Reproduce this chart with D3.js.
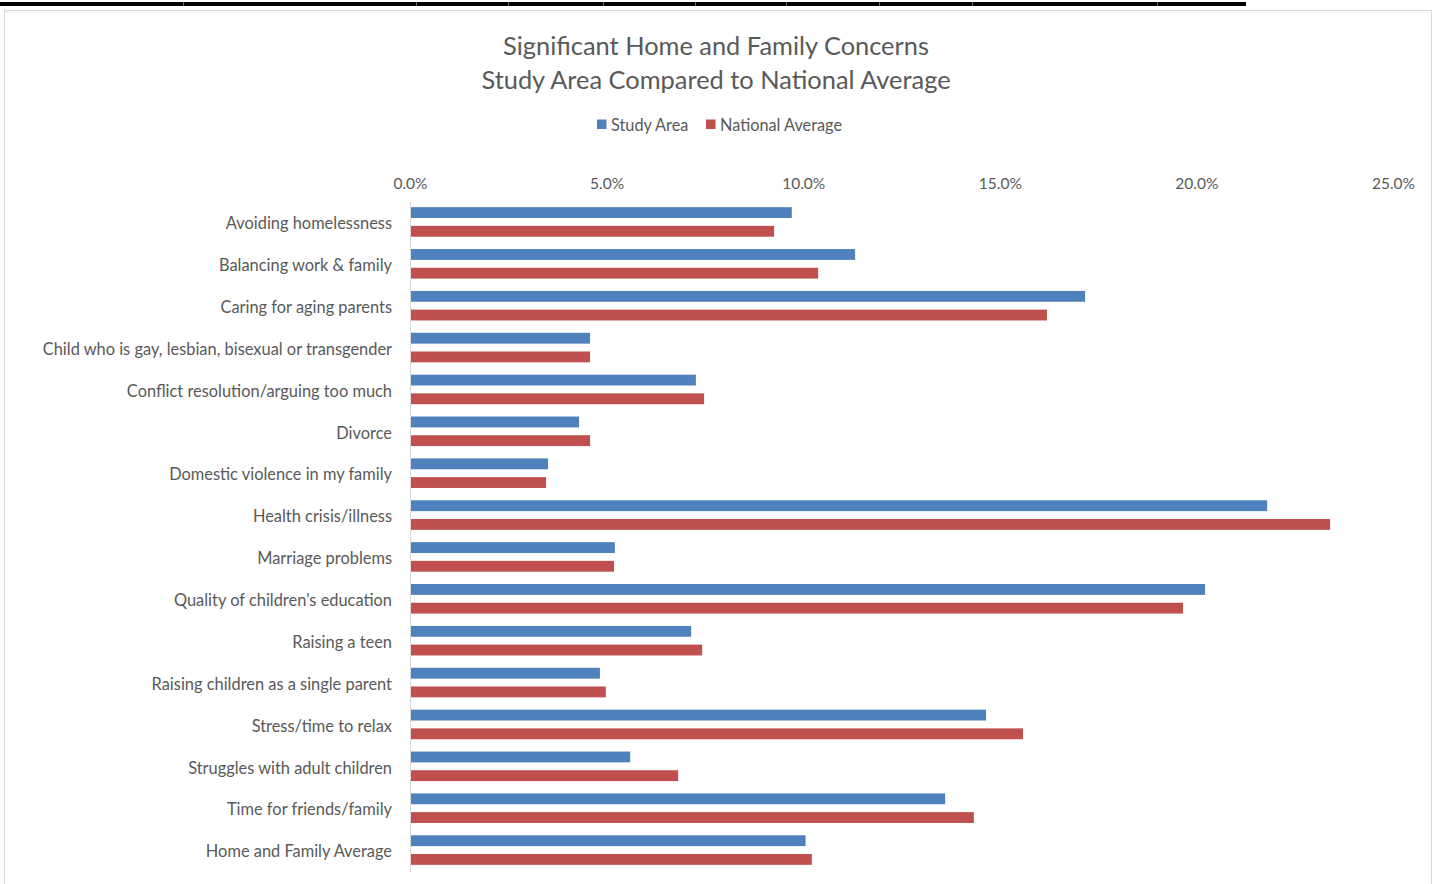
<!DOCTYPE html>
<html>
<head>
<meta charset="utf-8">
<script src="https://cdn.jsdelivr.net/npm/d3@7"></script>
<style>
html,body{margin:0;padding:0;background:#fff;}
svg{display:block;}
text{font-family:Lato,"Open Sans",sans-serif;fill:#595959;}
</style>
</head>
<body>
<svg id="chart" width="1440" height="884"></svg>
<script>
const categories = [
  "Avoiding homelessness",
  "Balancing work & family",
  "Caring for aging parents",
  "Child who is gay, lesbian, bisexual or transgender",
  "Conflict resolution/arguing too much",
  "Divorce",
  "Domestic violence in my family",
  "Health crisis/illness",
  "Marriage problems",
  "Quality of children's education",
  "Raising a teen",
  "Raising children as a single parent",
  "Stress/time to relax",
  "Struggles with adult children",
  "Time for friends/family",
  "Home and Family Average"
];
const studyArea = [9.71, 11.32, 17.17, 4.58, 7.27, 4.30, 3.51, 21.80, 5.21, 20.22, 7.15, 4.83, 14.65, 5.60, 13.61, 10.06];
const nationalAverage = [9.26, 10.38, 16.20, 4.58, 7.48, 4.58, 3.46, 23.40, 5.19, 19.66, 7.43, 4.98, 15.59, 6.82, 14.34, 10.22];
const xTicks = [0, 5, 10, 15, 20, 25];
const seriesNames = ["Study Area", "National Average"];
const colors = ["#4F81BD", "#C0504D"];
const titleLines = ["Significant Home and Family Concerns", "Study Area Compared to National Average"];

const svg = d3.select("#chart");

// top black strip
const strip = svg.append("g");
strip.append("rect").attr("x", 0).attr("y", 2).attr("width", 1246).attr("height", 4).attr("fill", "#000");
[183, 416, 508, 603, 695, 786, 879, 972, 1157].forEach(x => {
  strip.append("line").attr("x1", x + 0.5).attr("x2", x + 0.5).attr("y1", 2).attr("y2", 6).attr("stroke", "#666").attr("stroke-width", 1);
});

// chart border
svg.append("rect").attr("x", 4.5).attr("y", 10.5).attr("width", 1427).attr("height", 900)
  .attr("fill", "none").attr("stroke", "#d9d9d9").attr("stroke-width", 1);
svg.append("line").attr("x1", 5).attr("x2", 1431).attr("y1", 12).attr("y2", 12).attr("stroke", "#eeeeee");

// title
svg.append("g").selectAll("text").data(titleLines).join("text")
  .attr("x", 716).attr("y", (d, i) => 55 + i * 34)
  .attr("text-anchor", "middle").attr("font-size", 25.4).text(d => d);

// legend
const legend = svg.append("g");
const legItems = [{x: 597, tx: 611}, {x: 706, tx: 720}];
seriesNames.forEach((n, i) => {
  legend.append("rect").attr("x", legItems[i].x).attr("y", 119.5).attr("width", 9.5).attr("height", 9.5).attr("fill", colors[i]);
  legend.append("text").attr("x", legItems[i].tx).attr("y", 131).attr("font-size", 16.3).text(n);
});

// scales
const x = d3.scaleLinear().domain([0, 25]).range([410, 1393]);
const y = d3.scaleBand().domain(categories).range([201, 871]).paddingInner(0).paddingOuter(0);
const inner = d3.scaleBand().domain([0, 1]).range([0, y.bandwidth()]).paddingInner(0.42).paddingOuter(0.33);

// x axis at top
const xAxis = d3.axisTop(x).tickValues(xTicks).tickFormat(d => d3.format(".1f")(d) + "%").tickSize(0).tickPadding(0);
const gx = svg.append("g").attr("transform", "translate(0,189)").call(xAxis);
gx.select(".domain").remove();
gx.selectAll("text").attr("font-size", 15.5).attr("fill", "#595959").style("font-family", "Lato,'Open Sans',sans-serif");

// bars
const groups = svg.append("g").selectAll("g").data(categories).join("g")
  .attr("transform", d => `translate(0,${y(d)})`);
[studyArea, nationalAverage].forEach((vals, s) => {
  groups.append("rect")
    .attr("x", x(0))
    .attr("y", inner(s))
    .attr("width", (d, i) => x(vals[i]) - x(0))
    .attr("height", inner.bandwidth())
    .attr("fill", colors[s]);
});

// y axis line
svg.append("line").attr("x1", 410.5).attr("x2", 410.5).attr("y1", 201).attr("y2", 872)
  .attr("stroke", "#d9d9d9").attr("stroke-width", 1);

// category labels
const yAxis = d3.axisLeft(y).tickSize(0).tickPadding(18);
const gy = svg.append("g").attr("transform", "translate(410,2)").call(yAxis);
gy.select(".domain").remove();
gy.selectAll("text").attr("font-size", 16.4).attr("fill", "#595959").style("font-family", "Lato,'Open Sans',sans-serif");
</script>
</body>
</html>
